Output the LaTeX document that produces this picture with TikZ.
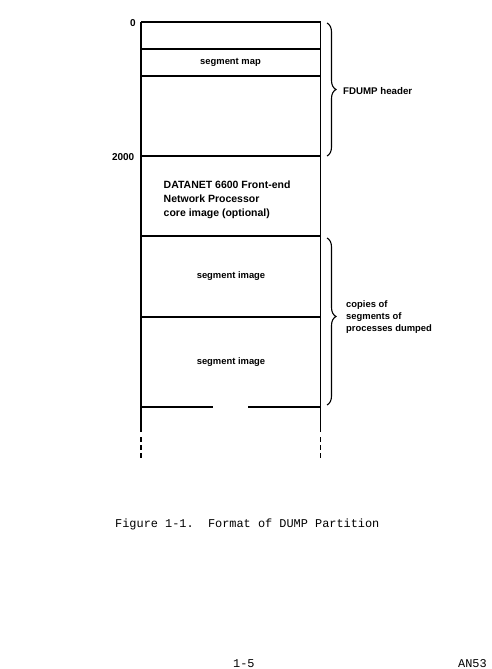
\documentclass[tikz,border=0pt]{standalone}
\usepackage{fontspec}
\setmainfont{Liberation Sans}
\newfontfamily\twfont{Liberation Mono}
\usetikzlibrary{decorations.pathreplacing}
\begin{document}
\begin{tikzpicture}[x=1pt,y=-1pt,
  boxline/.style={line width=1.6pt},
  brc/.style={decorate, decoration={brace, amplitude=9pt}, line width=1.1pt},
  lbl/.style={font=\bfseries\fontsize{9.4}{11}\selectfont, inner sep=0pt},
  biglbl/.style={font=\bfseries\fontsize{10.5}{13}\selectfont, inner sep=0pt},
  numlbl/.style={font=\bfseries\fontsize{10}{12}\selectfont, inner sep=0pt},
  twlbl/.style={font=\twfont\fontsize{11.9}{14}\selectfont, inner sep=0pt}]
\useasboundingbox (0,0) rectangle (491,669);
% memory column
\draw[boxline] (141,22) -- (141,432);
\draw[boxline] (320.5,22) -- (320.5,432);
\foreach \yy in {22,49,76,156,236,317}
  \draw[boxline] (141,\yy) -- (320.5,\yy);
\draw[boxline] (141,407) -- (213,407);
\draw[boxline] (248,407) -- (320.5,407);
\draw[boxline, dash pattern=on 5pt off 3pt] (141,437) -- (141,460);
\draw[boxline, dash pattern=on 5pt off 3pt] (320.5,437) -- (320.5,460);
% braces
\draw[brc] (327,23) -- (327,156);
\draw[brc, decoration={brace, amplitude=9pt, aspect=0.47}] (327,238) -- (327,405);
% addresses
\node[numlbl, anchor=base east] (a0) at (136,27) {0};
\node[numlbl, anchor=base east] (a2000) at (134.5,160) {2000};
% cell texts
\node[lbl, anchor=base] (smap) at (230.5,64.5) {segment map};
\node[biglbl, anchor=base west] (dn1) at (163.5,188) {DATANET 6600 Front-end};
\node[biglbl, anchor=base west] (dn2) at (163.5,202) {Network Processor};
\node[biglbl, anchor=base west] (dn3) at (163.5,216) {core image (optional)};
\node[lbl, anchor=base] (simg1) at (231,278) {segment image};
\node[lbl, anchor=base] (simg2) at (231,364) {segment image};
% brace labels
\node[lbl, font=\bfseries\fontsize{9.7}{11}\selectfont, anchor=base west] (fdh) at (343,94) {FDUMP header};
\node[lbl, anchor=base west] (cp1) at (346,307) {copies of};
\node[lbl, anchor=base west] (cp2) at (346,319) {segments of};
\node[lbl, anchor=base west] (cp3) at (346,331) {processes dumped};
% caption and page footer
\node[twlbl, anchor=base west] (cap) at (115,527) {Figure 1-1.\ \ Format of DUMP Partition};
\node[twlbl, anchor=base west] (pg) at (233,667) {1-5};
\node[twlbl, anchor=base west] (doc) at (458,667) {AN53};
\end{tikzpicture}
\end{document}
